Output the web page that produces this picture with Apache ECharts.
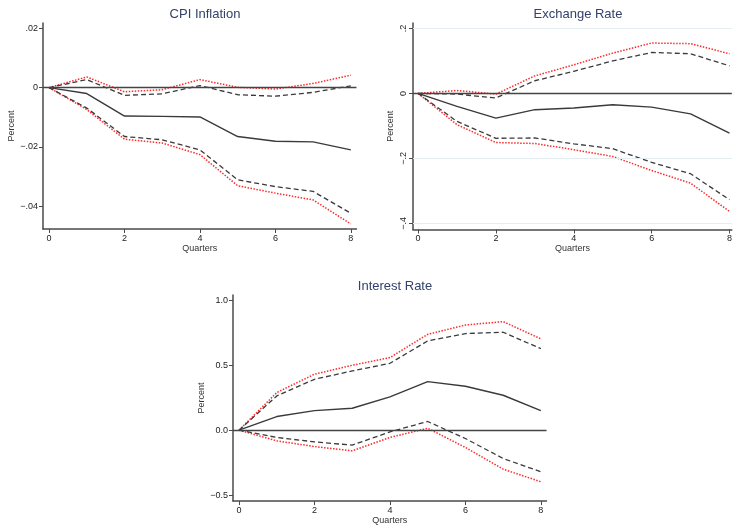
<!DOCTYPE html>
<html>
<head>
<meta charset="utf-8">
<title>Impulse responses</title>
<script src="https://cdn.jsdelivr.net/npm/echarts@6/dist/echarts.min.js"></script>
<style>
html,body{margin:0;padding:0;background:#fff;}
#main{width:735px;height:526px;}
</style>
</head>
<body>
<div id="main"></div>
<script>
// quarters after the shock
var quarters = [0, 1, 2, 3, 4, 5, 6, 7, 8];
var xTicks = [0, 2, 4, 6, 8];

// CPI inflation: point estimate, dashed band, red dotted band
var cpiMid   = [0, -0.0020, -0.0096, -0.0097, -0.0099, -0.0165, -0.0181, -0.0183, -0.0210];
var cpiDashUp = [0, 0.0027, -0.0026, -0.0021, 0.0007, -0.0024, -0.0029, -0.0016, 0.0006];
var cpiDashLo = [0, -0.0069, -0.0165, -0.0176, -0.0210, -0.0311, -0.0334, -0.0350, -0.0424];
var cpiDotUp  = [0, 0.0036, -0.0014, -0.0007, 0.0027, 0.0001, -0.0005, 0.0014, 0.0042];
var cpiDotLo  = [0, -0.0074, -0.0174, -0.0187, -0.0226, -0.0331, -0.0356, -0.0379, -0.0460];
var cpiTicks = [0.02, 0, -0.02, -0.04];
var cpiTickLabels = ['.02', '0', '\u2212.02', '\u2212.04'];

// exchange rate
var fxMid    = [0, -0.040, -0.076, -0.050, -0.045, -0.035, -0.042, -0.063, -0.122];
var fxDashUp = [0, -0.002, -0.014, 0.039, 0.068, 0.100, 0.126, 0.122, 0.085];
var fxDashLo = [0, -0.086, -0.138, -0.137, -0.155, -0.170, -0.212, -0.247, -0.327];
var fxDotUp  = [0, 0.009, -0.002, 0.054, 0.088, 0.124, 0.155, 0.153, 0.122];
var fxDotLo  = [0, -0.096, -0.151, -0.154, -0.173, -0.194, -0.237, -0.276, -0.363];
var fxTicks = [0.2, 0, -0.2, -0.4];
var fxTickLabels = ['.2', '0', '\u2212.2', '\u2212.4'];

// interest rate
var rateMid    = [0, 0.105, 0.151, 0.169, 0.256, 0.374, 0.338, 0.269, 0.151];
var rateDashUp = [0, 0.264, 0.392, 0.456, 0.515, 0.687, 0.744, 0.754, 0.628];
var rateDashLo = [0, -0.056, -0.090, -0.115, -0.013, 0.067, -0.064, -0.218, -0.320];
var rateDotUp  = [0, 0.290, 0.431, 0.500, 0.559, 0.738, 0.810, 0.836, 0.703];
var rateDotLo  = [0, -0.082, -0.126, -0.159, -0.056, 0.015, -0.133, -0.300, -0.397];
var rateTicks = [1, 0.5, 0, -0.5];
var rateTickLabels = ['1.0', '0.5', '0.0', '\u22120.5'];

var titles = ['CPI Inflation', 'Exchange Rate', 'Interest Rate'];

var FONT = '"Liberation Sans", Arial, sans-serif';
var AXIS_COLOR = '#4a4a4a';

function pairs(ys) {
	var out = [];
	for (var i = 0; i < quarters.length; i++) {
		out.push([quarters[i], ys[i]]);
	}
	return out;
}

function labelFor(ticks, labels) {
	return function (v) {
		for (var i = 0; i < ticks.length; i++) {
			if (Math.abs(ticks[i] - v) < 1e-9) return labels[i];
		}
		return '';
	};
}

function xAxisFor(idx, min, max) {
	return {
		type: 'value', gridIndex: idx, min: min, max: max,
		name: 'Quarters', nameLocation: 'middle', nameGap: 14,
		nameTextStyle: { fontFamily: FONT, fontSize: 9, color: '#333' },
		axisLine: { onZero: false, lineStyle: { color: AXIS_COLOR, width: 1.5 } },
		axisTick: { customValues: xTicks, length: 4, lineStyle: { color: AXIS_COLOR } },
		axisLabel: { customValues: xTicks, margin: 5, fontFamily: FONT, fontSize: 9, color: '#222' },
		splitLine: { show: false }
	};
}

function yAxisFor(idx, min, max, ticks, labels, gap, rotate) {
	return {
		type: 'value', gridIndex: idx, min: min, max: max,
		name: 'Percent', nameLocation: 'middle', nameGap: gap,
		nameTextStyle: { fontFamily: FONT, fontSize: 9, color: '#333' },
		axisLine: { onZero: false, lineStyle: { color: AXIS_COLOR, width: 1.5 } },
		axisTick: { customValues: ticks, length: 4, lineStyle: { color: AXIS_COLOR } },
		axisLabel: {
			customValues: ticks, margin: 5, rotate: rotate || 0,
			fontFamily: FONT, fontSize: 9, color: '#222',
			formatter: labelFor(ticks, labels)
		},
		splitLine: { show: false }
	};
}

function band(idx, ys, kind) {
	var style;
	if (kind === 'solid') style = { color: '#3a3a3a', width: 1.4, type: 'solid' };
	else if (kind === 'dash') style = { color: '#3a3a3a', width: 1.3, type: [5, 3] };
	else style = { color: '#ff2a2a', width: 1.5, type: [1.5, 1.5] };
	return {
		type: 'line', xAxisIndex: idx, yAxisIndex: idx,
		data: pairs(ys), symbol: 'none', silent: true,
		lineStyle: style, z: kind === 'solid' ? 4 : 3
	};
}

function zeroLine(idx, mids, grids) {
	var data = [{ yAxis: 0 }];
	(grids || []).forEach(function (g) {
		data.unshift({ yAxis: g, lineStyle: { color: '#e4eef0', width: 1, type: 'solid' } });
	});
	var s = band(idx, mids, 'solid');
	s.markLine = {
		silent: true, symbol: 'none', label: { show: false },
		lineStyle: { color: '#444', width: 1.4, type: 'solid' },
		data: data
	};
	return s;
}

var chart = echarts.init(document.getElementById('main'));

chart.setOption({
	animation: false,
	backgroundColor: '#fff',
	title: [
		{ text: titles[0], left: 200, top: 3, textAlign: 'center' },
		{ text: titles[1], left: 573, top: 3, textAlign: 'center' },
		{ text: titles[2], left: 390, top: 275, textAlign: 'center' }
	].map(function (t) {
		t.textStyle = { fontFamily: FONT, fontSize: 13, fontWeight: 'normal', color: '#34426b' };
		return t;
	}),
	grid: [
		{ left: 43, top: 23, width: 313.5, height: 206 },
		{ left: 413, top: 23, width: 320, height: 206.5 },
		{ left: 233, top: 295, width: 313.5, height: 207 }
	],
	xAxis: [
		xAxisFor(0, -0.16, 8.15),
		xAxisFor(1, -0.13, 8.06),
		xAxisFor(2, -0.16, 8.15)
	],
	yAxis: [
		yAxisFor(0, -0.0477, 0.0218, cpiTicks, cpiTickLabels, 27),
		yAxisFor(1, -0.4185, 0.2166, fxTicks, fxTickLabels, 18, 90),
		yAxisFor(2, -0.546, 1.041, rateTicks, rateTickLabels, 27)
	],
	series: [
		band(0, cpiDotUp, 'dot'), band(0, cpiDotLo, 'dot'),
		band(0, cpiDashUp, 'dash'), band(0, cpiDashLo, 'dash'),
		zeroLine(0, cpiMid),

		band(1, fxDotUp, 'dot'), band(1, fxDotLo, 'dot'),
		band(1, fxDashUp, 'dash'), band(1, fxDashLo, 'dash'),
		zeroLine(1, fxMid, [0.2, -0.2, -0.4]),

		band(2, rateDotUp, 'dot'), band(2, rateDotLo, 'dot'),
		band(2, rateDashUp, 'dash'), band(2, rateDashLo, 'dash'),
		zeroLine(2, rateMid)
	]
});
</script>
</body>
</html>
